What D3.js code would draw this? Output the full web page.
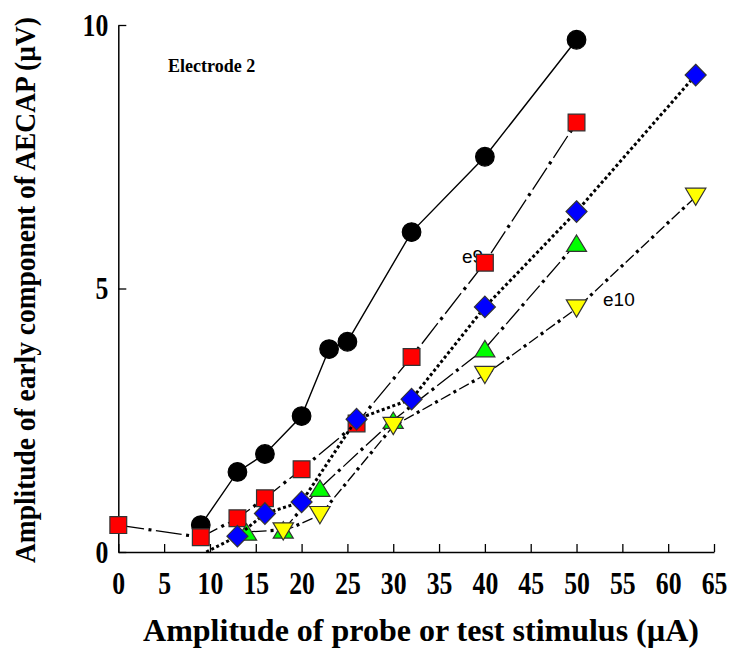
<!DOCTYPE html>
<html><head><meta charset="utf-8">
<script src="https://cdn.jsdelivr.net/npm/d3@7"></script>
<style>body{margin:0;background:#fff}</style>
</head><body>
<svg id="c" width="734" height="650"></svg>
<script>
// ---- data ----
const xTicks = [0,5,10,15,20,25,30,35,40,45,50,55,60,65];
const yTicks = [0,5,10];
const blackX = [9,13,16,20,23,25,32,40,50];
const blackY = [0.51,1.52,1.86,2.58,3.85,3.99,6.07,7.50,9.72];
const redX = [0,9,13,16,20,26,32,40,50];
const redY = [0.51,0.28,0.64,1.02,1.57,2.44,3.70,5.49,8.15];
const greenX = [14,18,22,30,40,50];
const greenY = [0.38,0.42,1.21,2.50,3.86,5.86];
const yellowX = [18,22,30,40,50,63];
const yellowY = [0.39,0.70,2.39,3.36,4.62,6.74];
const blueX = [9.6,13,16,20,26,32,40,50,63];
const blueY = [0,0.30,0.73,0.95,2.52,2.90,4.65,6.46,9.05];

const svg = d3.select("#c");
const x = d3.scaleLinear().domain([0,65]).range([118.3,714]);
const y = d3.scaleLinear().domain([0,10]).range([552,25]);

const serif = "'Liberation Serif','Times New Roman',serif";
const sans = "'Liberation Sans',Arial,sans-serif";

// axes
const gx = svg.append("g").attr("transform",`translate(0,${y(0)})`)
  .call(d3.axisBottom(x).tickValues(xTicks).tickSizeInner(-8).tickSizeOuter(0).tickPadding(0).tickFormat(d3.format("d")));
gx.select(".domain").attr("stroke","#000").attr("stroke-width",1.5);
gx.selectAll(".tick line").attr("stroke","#000").attr("stroke-width",1.3);
gx.selectAll(".tick text").attr("y",0).attr("dy",0)
  .attr("transform","translate(0,42) scale(0.92,1.1)")
  .style("font-family",serif).style("font-weight","bold").style("font-size","28px").attr("fill","#000");

const gy = svg.append("g").attr("transform",`translate(${x(0)},0)`)
  .call(d3.axisLeft(y).tickValues(yTicks).tickSizeInner(-8).tickSizeOuter(0).tickPadding(0).tickFormat(d3.format("d")));
gy.select(".domain").attr("stroke","#000").attr("stroke-width",1.5);
gy.selectAll(".tick text").attr("x",0).attr("dy",0)
  .attr("transform","translate(-10,10) scale(0.92,1.1)")
  .style("font-family",serif).style("font-weight","bold").style("font-size","28px").attr("fill","#000");
gy.selectAll(".tick line").attr("stroke","#000").attr("stroke-width",1.3);

// axis titles (scaled to the reference lengths)
function fitText(sel, target){
  const w = sel.node().getComputedTextLength();
  return target / w;
}
const xt = svg.append("text").attr("text-anchor","middle")
  .style("font-family",serif).style("font-weight","bold").style("font-size","32px")
  .text("Amplitude of probe or test stimulus (µA)");
const sx = fitText(xt, 556);
xt.attr("transform",`translate(421,641) scale(${sx},1)`);

const yt = svg.append("text").attr("text-anchor","middle")
  .style("font-family",serif).style("font-weight","bold").style("font-size","30px")
  .text("Amplitude of early component of AECAP (µV)");
const sy = fitText(yt, 546);
yt.attr("transform",`translate(35,290) rotate(-90) scale(${sy},1)`);

svg.append("text").attr("x",168).attr("y",72)
  .style("font-family",serif).style("font-weight","bold").style("font-size","18px")
  .text("Electrode 2");
svg.append("text").attr("x",462).attr("y",263)
  .style("font-family",sans).style("font-size","19px").text("e9");
svg.append("text").attr("x",603).attr("y",306)
  .style("font-family",sans).style("font-size","19px").text("e10");

const line = d3.line().x(d=>x(d[0])).y(d=>y(d[1]));
const zip = (a,b)=>a.map((v,i)=>[v,b[i]]);

function drawSeries(xs, ys, st){
  const pts = zip(xs,ys);
  const g = svg.append("g");
  if (st.solid) {
    g.append("path").attr("d",line(pts)).attr("fill","none").attr("stroke","#000").attr("stroke-width",1.4);
  } else if (st.dotted) {
    g.append("path").attr("d",line(pts)).attr("fill","none").attr("stroke","#000").attr("stroke-width",3)
      .attr("stroke-dasharray","3 2.6");
  } else {
    const P = st.dash + st.gap*2 + st.dot;
    g.append("path").attr("d",line(pts)).attr("fill","none").attr("stroke","#000").attr("stroke-width",1.3)
      .attr("stroke-dasharray",`${st.dash} ${P-st.dash}`);
    g.append("path").attr("d",line(pts)).attr("fill","none").attr("stroke","#000").attr("stroke-width",3.2)
      .attr("stroke-dasharray",`${st.dot} ${P-st.dot}`).attr("stroke-dashoffset",P-(st.dash+st.gap));
  }
  g.selectAll(".m").data(pts.filter(d=>d[1]>0)).join("path")
    .attr("transform",d=>`translate(${x(d[0])},${y(d[1])})`)
    .attr("d",st.shape).attr("fill",st.fill).attr("stroke",st.stroke).attr("stroke-width",1.2);
}

const circle = d3.symbol().type(d3.symbolCircle).size(Math.PI*9.3*9.3)();
const square = "M-8.4,-8.4H8.4V8.4H-8.4Z";
const diamond = "M0,-10.8L10.5,0L0,10.8L-10.5,0Z";
const triUp = "M0,-8.2L10,8.2L-10,8.2Z";
const triDown = "M0,8.6L10.2,-8.6L-10.2,-8.6Z";

drawSeries(blackX, blackY, {solid:true, shape:circle, fill:"#000", stroke:"#000"});
drawSeries(redX, redY, {dash:26, gap:4.5, dot:3, shape:square, fill:"#ff0000", stroke:"#333"});
drawSeries(greenX, greenY, {dash:20, gap:4, dot:3, shape:triUp, fill:"#00ff00", stroke:"#333"});
drawSeries(yellowX, yellowY, {dash:11, gap:3.5, dot:3, shape:triDown, fill:"#ffff00", stroke:"#333"});
drawSeries(blueX, blueY, {dotted:true, shape:diamond, fill:"#0000ff", stroke:"#333"});
</script>
</body></html>
